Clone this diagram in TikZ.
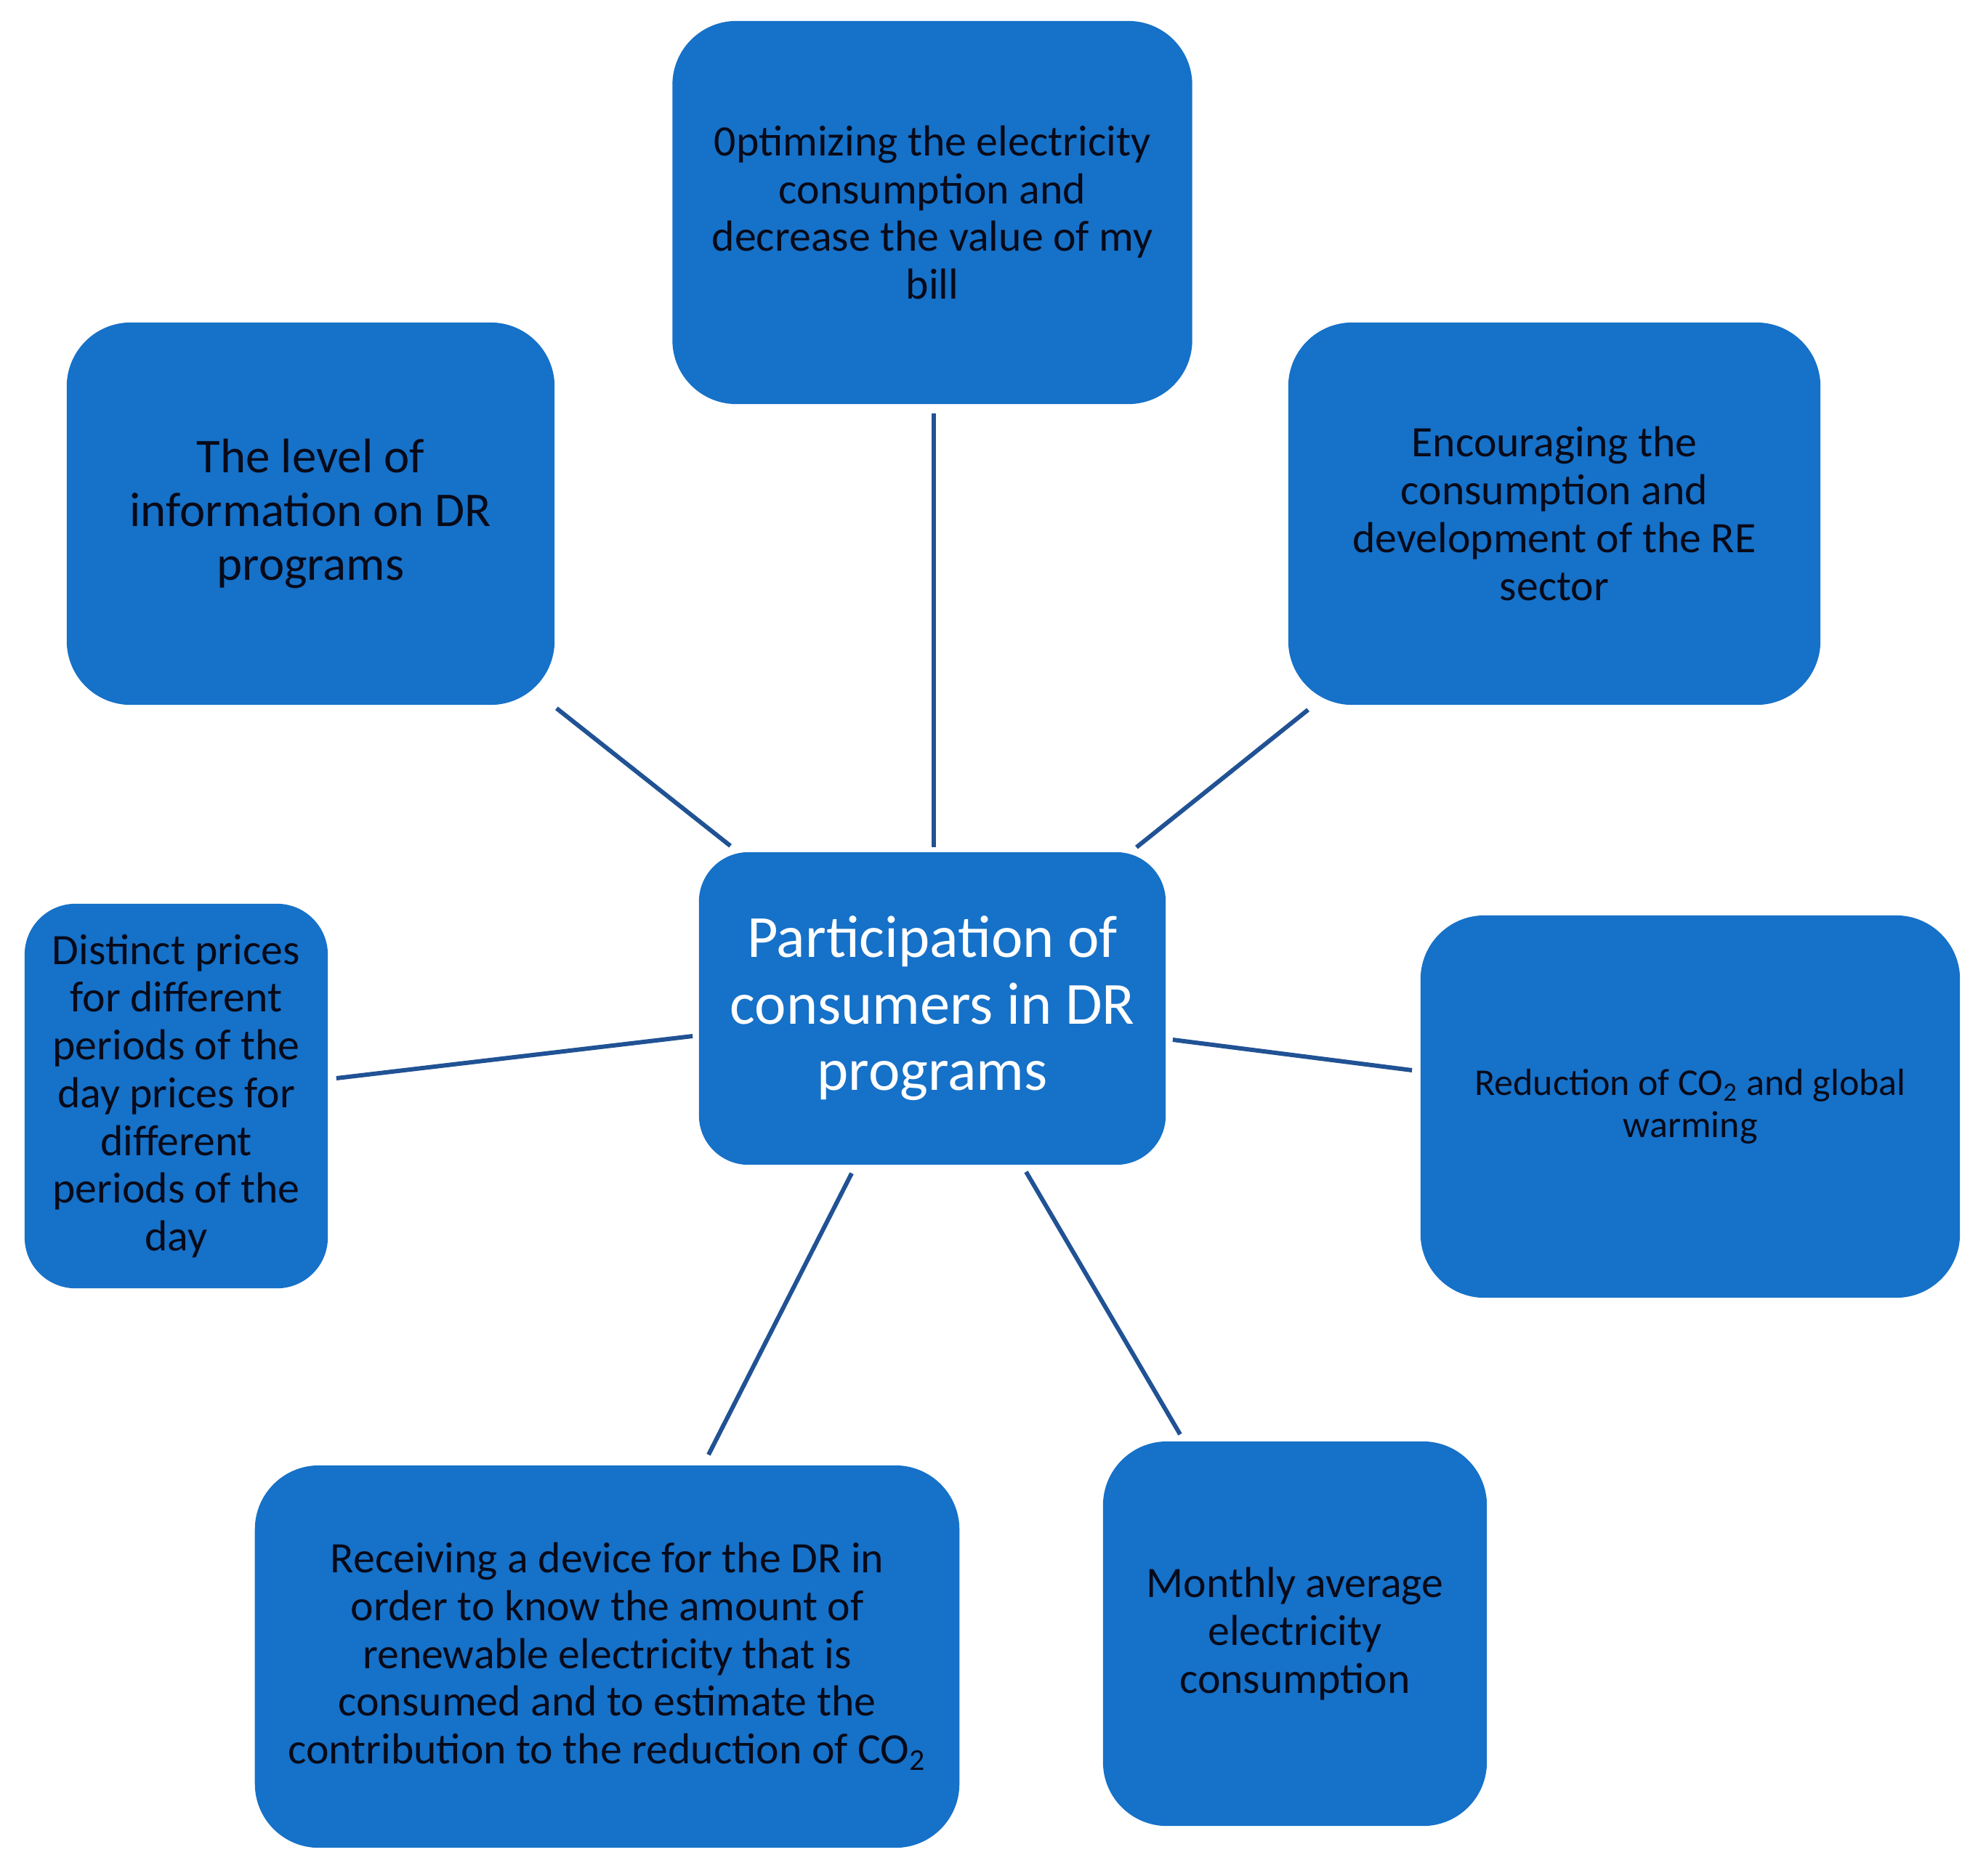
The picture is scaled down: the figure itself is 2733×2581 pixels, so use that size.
\documentclass[tikz,border=0pt]{standalone}
\usepackage{fontspec}
\setmainfont{Carlito}
\usetikzlibrary{calc}
\definecolor{boxblue}{RGB}{22,113,200}
\definecolor{linkblue}{RGB}{32,82,148}
\definecolor{txt}{RGB}{8,10,25}
\tikzset{
  card/.style={fill=boxblue, draw=none, align=center, text=txt, inner sep=0pt},
  ftxt/.style={font=\fontsize{17}{18.7}\selectfont},
  link/.style={draw=linkblue, line width=1.7pt}
}
\begin{document}
\begin{tikzpicture}[x=0.01cm,y=-0.01cm]
\useasboundingbox[fill=white] (0,0) rectangle (2733,2581);

\node[card, ftxt, minimum width=7.15cm, minimum height=5.27cm, rounded corners=0.88cm] (top) at (1283,292.5)
  {0ptimizing the electricity\\consumption and\\decrease the value of my\\bill};
\node[card, font=\fontsize{19}{21}\selectfont, minimum width=6.71cm, minimum height=5.26cm, rounded corners=0.88cm] (level) at (427.5,707)
  {The level of\\information on DR\\programs};
\node[card, ftxt, minimum width=7.32cm, minimum height=5.26cm, rounded corners=0.88cm] (enc) at (2139,707)
  {Encouraging the\\consumption and\\development of the RE\\sector};
\node[card, ftxt, minimum width=4.17cm, minimum height=5.29cm, rounded corners=0.70cm] (dist) at (242.5,1508.5)
  {Distinct prices\\for different\\periods of the\\day prices for\\different\\periods of the\\day};
\node[card, text=white, font=\fontsize{23.4}{26}\selectfont, minimum width=6.42cm, minimum height=4.30cm, rounded corners=0.68cm] (center) at (1283,1388)
  {Participation of\\consumers in DR\\programs};
\node[card, font=\fontsize{14.8}{16.5}\selectfont, minimum width=7.42cm, minimum height=5.26cm, rounded corners=0.88cm] (red) at (2326,1523)
  {Reduction of CO\textsubscript{2} and global\\warming};
\node[card, ftxt, minimum width=9.69cm, minimum height=5.26cm, rounded corners=0.88cm] (rec) at (835.5,2280)
  {Receiving a device for the DR in\\order to know the amount of\\renewable electricity that is\\consumed and to estimate the\\contribution to the reduction of CO\textsubscript{2}};
\node[card, ftxt, minimum width=5.28cm, minimum height=5.29cm, rounded corners=0.88cm] (mon) at (1782,2248.5)
  {Monthly average\\electricity\\consumption};

\draw[link] ($(top.south)+(2,12)$) -- ($(center.north)+(2,-6)$);
\draw[link] ($(level.south east)+(2,4)$) -- ($(center.north west)+(44,-8)$);
\draw[link] ($(enc.south west)+(28,6)$) -- ($(center.north east)+(-41,-6)$);
\draw[link] ($(dist.east)+(11,-24.5)$) -- ($(center.west)+(-8,38)$);
\draw[link] ($(center.east)+(9,43)$) -- ($(red.west)+(-11,-50)$);
\draw[link] ($(center.south)+(-111,11)$) -- ($(rec.north)+(139.5,-14)$);
\draw[link] ($(center.south)+(129,9)$) -- ($(mon.north)+(-158,-9)$);
\end{tikzpicture}
\end{document}
